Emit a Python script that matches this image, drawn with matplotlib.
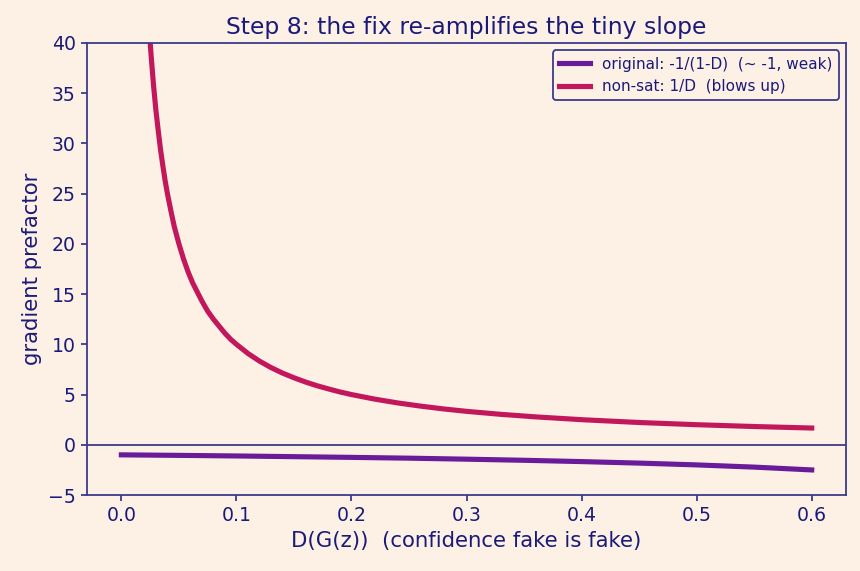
import matplotlib
matplotlib.use('Agg')
import matplotlib.pyplot as plt

# values
d_orig = [0.0, 0.05, 0.1, 0.15, 0.2, 0.25, 0.3, 0.35, 0.4, 0.45, 0.5, 0.55, 0.6]
g_orig = [-1.0, -1.05, -1.11, -1.18, -1.25, -1.33, -1.43, -1.54, -1.67, -1.82, -2.0, -2.22, -2.5]

d_nonsat = [0.02, 0.022, 0.024, 0.026, 0.028, 0.030, 0.032, 0.034, 0.036, 0.038,
            0.040, 0.043, 0.046, 0.050, 0.054, 0.058, 0.062, 0.066, 0.070, 0.075,
            0.080, 0.085, 0.090, 0.095, 0.100, 0.11, 0.12, 0.13, 0.14, 0.15,
            0.16, 0.17, 0.18, 0.19, 0.20, 0.22, 0.24, 0.26, 0.28, 0.30,
            0.33, 0.36, 0.40, 0.45, 0.50, 0.55, 0.60]
g_nonsat = [50.0, 45.5, 41.7, 38.5, 35.7, 33.3, 31.3, 29.4, 27.8, 26.3,
            25.0, 23.3, 21.7, 20.0, 18.5, 17.2, 16.1, 15.2, 14.3, 13.3,
            12.5, 11.8, 11.1, 10.5, 10.0, 9.09, 8.33, 7.69, 7.14, 6.67,
            6.25, 5.88, 5.56, 5.26, 5.00, 4.55, 4.17, 3.85, 3.57, 3.33,
            3.03, 2.78, 2.50, 2.22, 2.00, 1.82, 1.67]

bg = '#fdf1e6'
ink = '#1a1a7a'
edge = '#3b3b8c'

fig, ax = plt.subplots(figsize=(8.6, 5.71), dpi=100)
fig.patch.set_facecolor(bg)
ax.set_facecolor(bg)
fig.subplots_adjust(left=0.101, right=0.984, top=0.925, bottom=0.133)

ax.plot(d_orig, g_orig, color='#6a1b9a', lw=3.7, label='original: -1/(1-D)  (~ -1, weak)')
ax.plot(d_nonsat, g_nonsat, color='#c2185b', lw=3.7, label='non-sat: 1/D  (blows up)')
ax.axhline(0, color=edge, lw=1.3)

ax.set_ylim(-5, 40)
ax.set_xlim(-0.03, 0.63)
ax.set_xticks([0.0, 0.1, 0.2, 0.3, 0.4, 0.5, 0.6])

ax.set_title('Step 8: the fix re-amplifies the tiny slope', color=ink, fontsize=16.9)
ax.set_xlabel('D(G(z))  (confidence fake is fake)', color=ink, fontsize=15.3)
ax.set_ylabel('gradient prefactor', color=ink, fontsize=15.3)
ax.tick_params(colors=edge, labelcolor=ink, labelsize=13.6, width=1.3, length=4.5)
for s in ax.spines.values():
    s.set_color(edge)
    s.set_linewidth(1.3)

leg = ax.legend(loc='upper right', fontsize=11, facecolor=bg, edgecolor=edge, framealpha=1)
leg.get_frame().set_linewidth(1.3)
for t in leg.get_texts():
    t.set_color(ink)

plt.savefig('out.png', dpi=100, facecolor=bg)
